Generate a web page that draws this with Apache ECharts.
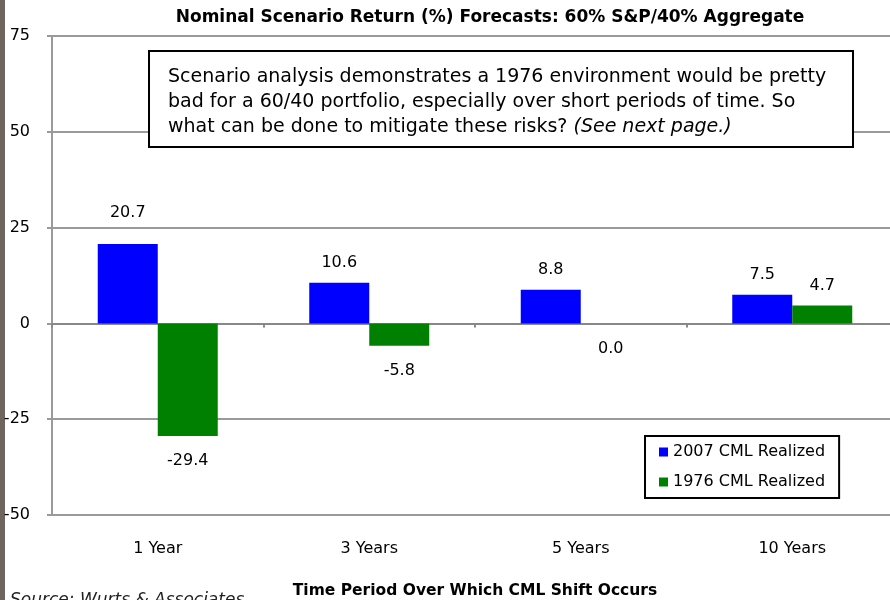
<!DOCTYPE html>
<html>
<head>
<meta charset="utf-8">
<script src="https://cdn.jsdelivr.net/npm/echarts@6/dist/echarts.min.js"></script>
<style>
    html, body { margin: 0; padding: 0; background: #fff; }
    #chart { width: 890px; height: 600px; }
</style>
</head>
<body>
<div id="chart"></div>
<script>
    // 数据
    const categories = ['1 Year', '3 Years', '5 Years', '10 Years']
    const cml2007 = [20.7, 10.6, 8.8, 7.5]
    const cml1976 = [-29.4, -5.8, 0.0, 4.7]
    const seriesNames = ['2007 CML Realized', '1976 CML Realized']
    const yTicks = { min: -50, max: 75, step: 25 }

    const FONT = '"DejaVu Sans", Verdana, sans-serif'
    const GRID_COLOR = '#9a9a9a'

    const chart = echarts.init(document.getElementById('chart'), null, { renderer: 'canvas' })

    // label above positive bars, below negative / zero bars
    // (the first bar's label sits a bit higher in the original)
    function makeItems(values, liftFirst) {
        return values.map((v, i) => ({
            value: v,
            label: {
                position: v > 0 ? 'top' : 'bottom',
                distance: v > 0 ? (liftFirst && i === 0 ? 23 : 12) : 17
            }
        }))
    }

    const barLabel = {
        show: true,
        fontFamily: FONT,
        fontSize: 16,
        color: '#000',
        formatter: p => p.value.toFixed(1)
    }

    const option = {
        animation: false,
        backgroundColor: '#ffffff',
        textStyle: { fontFamily: FONT },
        grid: {
            left: 52,
            right: -8,
            top: 36,
            bottom: 85,
            containLabel: false,
            outerBoundsMode: 'none'
        },
        legend: {
            orient: 'vertical',
            left: 645,
            top: 436,
            data: seriesNames,
            icon: 'rect',
            itemWidth: 9,
            itemHeight: 9,
            itemGap: 12,
            padding: [7, 14, 7, 14],
            backgroundColor: '#fff',
            borderColor: '#000',
            borderWidth: 2,
            textStyle: { fontFamily: FONT, fontSize: 16, color: '#000', lineHeight: 18 }
        },
        xAxis: [{
            type: 'category',
            data: categories,
            axisLine: { onZero: true, lineStyle: { color: '#888', width: 2 } },
            axisTick: { show: true, length: 4, lineStyle: { color: '#888', width: 2 } },
            axisLabel: { show: false },
            splitLine: { show: false }
        }, {
            type: 'category',
            data: categories,
            position: 'bottom',
            axisLine: { show: false, onZero: false },
            axisTick: { show: false },
            axisLabel: { margin: 26, fontFamily: FONT, fontSize: 16, color: '#000' },
            name: 'Time Period Over Which CML Shift Occurs',
            nameLocation: 'middle',
            nameGap: 68,
            nameTextStyle: { fontFamily: FONT, fontSize: 15.5, fontWeight: 'bold', color: '#000' }
        }],
        yAxis: {
            type: 'value',
            min: yTicks.min,
            max: yTicks.max,
            interval: yTicks.step,
            axisLine: { show: true, lineStyle: { color: GRID_COLOR, width: 2 } },
            axisTick: { show: true, length: 5, lineStyle: { color: GRID_COLOR, width: 2 } },
            axisLabel: { margin: 22, fontFamily: FONT, fontSize: 16, color: '#000' },
            splitLine: { show: true, lineStyle: { color: GRID_COLOR, width: 2 } }
        },
        series: [{
            name: seriesNames[0],
            type: 'bar',
            xAxisIndex: 0,
            barWidth: 60,
            barGap: '0%',
            itemStyle: { color: '#0000ff' },
            label: barLabel,
            data: makeItems(cml2007, true)
        }, {
            name: seriesNames[1],
            type: 'bar',
            xAxisIndex: 0,
            barWidth: 60,
            barGap: '0%',
            itemStyle: { color: '#008000' },
            label: barLabel,
            data: makeItems(cml1976, false)
        }],
        graphic: [
            // 左侧深色边条
            { type: 'rect', left: 0, top: 0, shape: { width: 5, height: 600 }, style: { fill: '#6e665e' } },
            {
                type: 'text',
                x: 490,
                y: 18,
                style: {
                    text: 'Nominal Scenario Return (%) Forecasts: 60% S&P/40% Aggregate',
                    font: 'bold 17px ' + FONT,
                    fill: '#000',
                    align: 'center',
                    verticalAlign: 'middle'
                }
            },
            {
                type: 'rect',
                shape: { x: 149, y: 51, width: 704, height: 96 },
                style: { fill: '#fff', stroke: '#000', lineWidth: 2 },
                z: 10
            },
            {
                type: 'text',
                x: 168,
                y: 65,
                z: 11,
                style: {
                    text: 'Scenario analysis demonstrates a 1976 environment would be pretty\n' +
                        'bad for a 60/40 portfolio, especially over short periods of time. So\n' +
                        'what can be done to mitigate these risks? {i|(See next page.)}',
                    font: '19px ' + FONT,
                    lineHeight: 25,
                    fill: '#000',
                    rich: {
                        i: { fontStyle: 'italic', fontSize: 19, fontFamily: FONT, fill: '#000' }
                    }
                }
            },
            {
                type: 'text',
                x: 10,
                y: 592,
                style: {
                    text: 'Source: Wurts & Associates',
                    font: 'italic 17px ' + FONT,
                    fill: '#222'
                }
            }
        ]
    }

    chart.setOption(option)
</script>
</body>
</html>
